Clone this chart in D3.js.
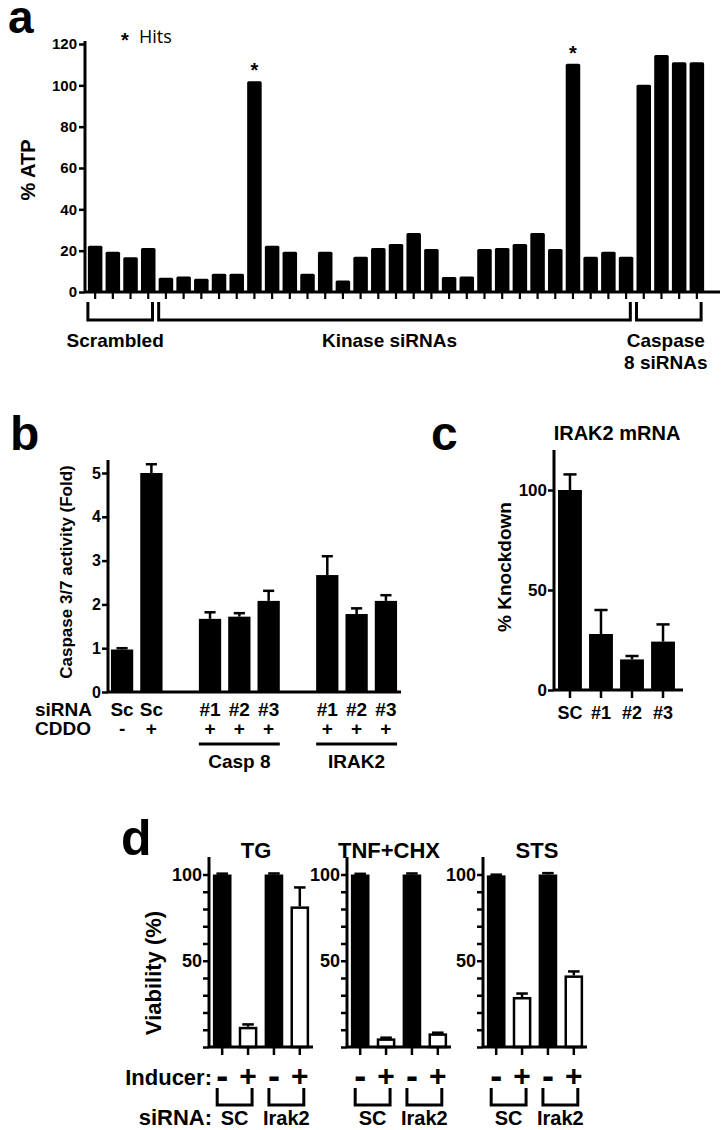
<!DOCTYPE html>
<html><head><meta charset="utf-8">
<script src="https://cdn.jsdelivr.net/npm/d3@7"></script>
<style>
body{margin:0;background:#fff;}
svg{display:block;font-family:"Liberation Sans",Arial,sans-serif;font-weight:bold;}
text{fill:#000;}
</style></head><body>
<svg id="fig" width="724" height="1130"></svg>
<script>
// ===== DATA =====
// Panel a: % ATP screen
const atpGroups = ["Scrambled", "Kinase siRNAs", "Caspase 8 siRNAs"];
const atpGroupSizes = [4, 27, 4];
const atpValues = [22.4, 19.5, 16.8, 21.3,
  6.9, 7.5, 6.4, 8.8, 8.8, 102, 22.4, 19.5, 8.8, 19.5, 5.6, 17.1,
  21.3, 23.2, 28.5, 20.8, 7.2, 7.5, 20.8, 21.3, 23.2, 28.5, 20.8, 110.4, 17.1, 19.5, 17.1,
  100.3, 114.7, 111.2, 111.2];
const atpHits = [9, 27];
const atpTicks = [0, 20, 40, 60, 80, 100, 120];

// Panel b: Caspase 3/7 activity
const casp37SiRNA = ["Sc", "Sc", "#1", "#2", "#3", "#1", "#2", "#3"];
const casp37CDDO = ["-", "+", "+", "+", "+", "+", "+", "+"];
const casp37Group = ["", "", "Casp 8", "Casp 8", "Casp 8", "IRAK2", "IRAK2", "IRAK2"];
const casp37Values = [0.97, 5.0, 1.67, 1.72, 2.08, 2.67, 1.78, 2.08];
const casp37Err = [0.03, 0.2, 0.15, 0.08, 0.23, 0.43, 0.13, 0.13];
const casp37Ticks = [0, 1, 2, 3, 4, 5];

// Panel c: IRAK2 mRNA
const irakLabels = ["SC", "#1", "#2", "#3"];
const irakValues = [100, 28, 15.3, 24.2];
const irakErr = [7.8, 12, 1.7, 8.6];
const irakTicks = [0, 50, 100];

// Panel d: viability
const viaPanels = ["TG", "TNF+CHX", "STS"];
const viaInducer = ["-", "+", "-", "+"];
const viaSiRNA = ["SC", "SC", "Irak2", "Irak2"];
const viaValues = [[100, 11.7, 100, 81.5], [100, 5.0, 100, 7.9], [99.5, 29, 100, 41.5]];
const viaErr = [[0.5, 1.4, 0.6, 11], [0.4, 0.4, 0.6, 0.4], [0.4, 2, 0.8, 2.3]];
const viaTicks = [0, 10, 20, 30, 40, 50, 60, 70, 80, 90, 100];
const viaTickLabels = [50, 100];

// ===== DRAW =====
const svg = d3.select("#fig");

function styleAxis(g, fs, sw) {
  g.select(".domain").attr("stroke", "#000").attr("stroke-width", sw);
  g.selectAll(".tick line").attr("stroke", "#000").attr("stroke-width", sw - 0.5);
  g.selectAll(".tick text").attr("fill", "#000").attr("font-size", fs)
    .attr("font-family", '"Liberation Sans",Arial,sans-serif').attr("font-weight", "bold");
}
function txt(x, y, s, fs, anchor) {
  return svg.append("text").attr("x", x).attr("y", y).attr("font-size", fs)
    .attr("text-anchor", anchor || "middle").text(s);
}
function vtxt(x, y, s, fs) {
  return svg.append("text").attr("transform", `translate(${x},${y}) rotate(-90)`)
    .attr("font-size", fs).attr("text-anchor", "middle").text(s);
}
function errBar(g, cx, yTop, yErr, cap, sw) {
  g.append("line").attr("x1", cx).attr("x2", cx).attr("y1", yTop).attr("y2", yErr)
    .attr("stroke", "#000").attr("stroke-width", sw);
  g.append("line").attr("x1", cx - cap / 2).attr("x2", cx + cap / 2).attr("y1", yErr).attr("y2", yErr)
    .attr("stroke", "#000").attr("stroke-width", sw);
}

// ---------- Panel a ----------
(function () {
  const ax = 85, y0 = 292;
  const x = d3.scaleBand().domain(d3.range(atpValues.length)).range([87, 705])
    .paddingInner(0.18).paddingOuter(0.05);
  const y = d3.scaleLinear().domain([0, 120]).range([y0, 44]);
  const g = svg.append("g");
  g.selectAll("rect.bar").data(atpValues).join("rect")
    .attr("x", (d, i) => x(i)).attr("width", x.bandwidth())
    .attr("y", d => y(d)).attr("height", d => y0 - y(d)).attr("rx", 1.5).attr("fill", "#000");
  g.selectAll("line.xt").data(atpValues).join("line")
    .attr("x1", (d, i) => x(i) + x.bandwidth() / 2).attr("x2", (d, i) => x(i) + x.bandwidth() / 2)
    .attr("y1", y0).attr("y2", y0 + 7).attr("stroke", "#000").attr("stroke-width", 2.2);
  g.append("line").attr("x1", ax).attr("x2", 720).attr("y1", y0).attr("y2", y0)
    .attr("stroke", "#000").attr("stroke-width", 3);
  const ya = svg.append("g").attr("transform", `translate(${ax},0)`)
    .call(d3.axisLeft(y).tickValues(atpTicks).tickSize(6).tickPadding(2).tickSizeOuter(0));
  styleAxis(ya, 15, 3);
  ya.select(".domain").attr("d", `M0,${y0}V41`);
  atpHits.forEach(i => txt(x(i) + x.bandwidth() / 2, y(atpValues[i]) - 4, "*", 20));
  let start = 0;
  atpGroups.forEach((name, gi) => {
    const end = start + atpGroupSizes[gi] - 1;
    const x0 = x(start), x1 = x(end) + x.bandwidth() - 3;
    svg.append("path").attr("d", `M${x0},302V320H${x1}V302`).attr("fill", "none")
      .attr("stroke", "#000").attr("stroke-width", 3);
    const cx = (x0 + x1) / 2 - 5;
    if (name === "Caspase 8 siRNAs") {
      txt(cx + 2, 347, "Caspase", 19);
      txt(cx + 2, 369, "8 siRNAs", 19);
    } else {
      txt(cx, 347, name, 19);
    }
    start = end + 1;
  });
  vtxt(35, 170, "% ATP", 20);
  txt(121, 47, "*", 20, "start");
  svg.append("text").attr("x", 139).attr("y", 43).attr("font-size", 18)
    .attr("font-family", '"Open Sans",sans-serif').attr("font-weight", "normal").text("Hits");
  txt(8, 33, "a", 46, "start");
})();

// ---------- Panel b ----------
(function () {
  const ax = 108, y0 = 692;
  const slots = [];
  let s = 0;
  casp37Group.forEach((gname, i) => {
    if (i > 0) s += (gname !== casp37Group[i - 1]) ? 2 : 1;
    slots.push(s);
  });
  const x = d3.scaleBand().domain(d3.range(10)).range([ax, 400]).paddingInner(0.24).paddingOuter(0.1);
  const y = d3.scaleLinear().domain([0, 5]).range([y0, 473]);
  const g = svg.append("g");
  const bw = x.bandwidth();
  casp37Values.forEach((v, i) => {
    const bx = x(slots[i]);
    g.append("rect").attr("x", bx).attr("width", bw).attr("y", y(v)).attr("height", y0 - y(v)).attr("fill", "#000");
    errBar(g, bx + bw / 2, y(v), y(v + casp37Err[i]), bw * 0.5, 2.5);
    txt(bx + bw / 2, 716, casp37SiRNA[i], 19);
    txt(bx + bw / 2, 735, casp37CDDO[i], 19);
  });
  g.append("line").attr("x1", ax).attr("x2", 401).attr("y1", y0).attr("y2", y0)
    .attr("stroke", "#000").attr("stroke-width", 3);
  const ya = svg.append("g").attr("transform", `translate(${ax},0)`)
    .call(d3.axisLeft(y).tickValues(casp37Ticks).tickFormat(d3.format("d")).tickSize(6).tickPadding(1).tickSizeOuter(0));
  styleAxis(ya, 16, 3);
  ya.select(".domain").attr("d", `M0,${y0}V460`);
  const names = [...new Set(casp37Group.filter(d => d))];
  names.forEach(n => {
    const idx = casp37Group.map((d, i) => d === n ? i : -1).filter(i => i >= 0);
    const x0 = x(slots[idx[0]]), x1 = x(slots[idx[idx.length - 1]]) + bw;
    svg.append("line").attr("x1", x0).attr("x2", x1).attr("y1", 744).attr("y2", 744)
      .attr("stroke", "#000").attr("stroke-width", 3);
    txt((x0 + x1) / 2, 768, n, 19);
  });
  txt(35, 716, "siRNA", 19, "start");
  txt(35, 735, "CDDO", 19, "start");
  vtxt(72, 572, "Caspase 3/7 activity (Fold)", 17);
  txt(10, 450, "b", 48, "start");
})();

// ---------- Panel c ----------
(function () {
  const ax = 554, y0 = 690;
  const x = d3.scaleBand().domain(d3.range(irakValues.length)).range([ax, 679]).paddingInner(0.23).paddingOuter(0.13);
  const y = d3.scaleLinear().domain([0, 120]).range([y0, 450]);
  const g = svg.append("g");
  const bw = x.bandwidth();
  irakValues.forEach((v, i) => {
    const bx = x(i);
    g.append("rect").attr("x", bx).attr("width", bw).attr("y", y(v)).attr("height", y0 - y(v)).attr("fill", "#000");
    errBar(g, bx + bw / 2, y(v), y(v + irakErr[i]), bw * 0.55, 2.5);
    g.append("line").attr("x1", bx + bw / 2).attr("x2", bx + bw / 2).attr("y1", y0).attr("y2", y0 + 8)
      .attr("stroke", "#000").attr("stroke-width", 2.5);
    txt(bx + bw / 2, 719, irakLabels[i], 18);
  });
  g.append("line").attr("x1", ax).attr("x2", 683).attr("y1", y0).attr("y2", y0)
    .attr("stroke", "#000").attr("stroke-width", 3);
  const ya = svg.append("g").attr("transform", `translate(${ax},0)`)
    .call(d3.axisLeft(y).tickValues(irakTicks).tickSize(6).tickPadding(1).tickSizeOuter(0));
  styleAxis(ya, 17, 3);
  ya.select(".domain").attr("d", `M0,${y0}V450`);
  txt(617, 440, "IRAK2 mRNA", 20);
  vtxt(511, 567, "% Knockdown", 19);
  txt(431, 450, "c", 48, "start");
})();

// ---------- Panel d ----------
(function () {
  const axes = [209, 347, 483];
  const titleX = [256, 389, 537];
  const y0 = 1047;
  const y = d3.scaleLinear().domain([0, 110]).range([y0, y0 - 110 * 1.725]);
  viaPanels.forEach((title, p) => {
    const ax = axes[p];
    const x = d3.scaleBand().domain(d3.range(4)).range([ax, ax + 104]).paddingInner(0.28).paddingOuter(0.15);
    const bw = x.bandwidth();
    const g = svg.append("g");
    viaValues[p].forEach((v, i) => {
      const bx = x(i);
      const white = viaInducer[i] === "+";
      if (white) {
        g.append("rect").attr("x", bx + 1.25).attr("width", bw - 2.5).attr("y", y(v) + 1.25)
          .attr("height", y0 - y(v) - 1.25).attr("fill", "#fff").attr("stroke", "#000").attr("stroke-width", 2.5);
      } else {
        g.append("rect").attr("x", bx).attr("width", bw).attr("y", y(v)).attr("height", y0 - y(v)).attr("fill", "#000");
      }
      errBar(g, bx + bw / 2, y(v), y(v + viaErr[p][i]), bw * 0.62, 2.5);
      g.append("line").attr("x1", bx + bw / 2).attr("x2", bx + bw / 2).attr("y1", y0).attr("y2", y0 + 8)
        .attr("stroke", "#000").attr("stroke-width", 2.5);
      if (viaInducer[i] === "-") txt(bx + bw / 2, 1088, viaInducer[i], 36);
      else txt(bx + bw / 2, 1086, viaInducer[i], 30);
    });
    const names = [...new Set(viaSiRNA)];
    names.forEach(n => {
      const idx = viaSiRNA.map((d, i) => d === n ? i : -1).filter(i => i >= 0);
      const c0 = x(idx[0]) + bw / 2 - 5, c1 = x(idx[idx.length - 1]) + bw / 2 + 4;
      svg.append("path").attr("d", `M${c0},1088V1105H${c1}V1088`).attr("fill", "none")
        .attr("stroke", "#000").attr("stroke-width", 3);
      txt((c0 + c1) / 2, 1125, n, 20);
    });
    g.append("line").attr("x1", ax).attr("x2", ax + 104).attr("y1", y0).attr("y2", y0)
      .attr("stroke", "#000").attr("stroke-width", 3);
    const ya = svg.append("g").attr("transform", `translate(${ax},0)`)
      .call(d3.axisLeft(y).tickValues(viaTicks).tickSize(6).tickPadding(1).tickSizeOuter(0)
        .tickFormat(d => viaTickLabels.includes(d) ? d : ""));
    styleAxis(ya, 18, 3);
    ya.select(".domain").attr("d", `M0,${y0}V857`);
    txt(titleX[p], 858, title, 22);
  });
  txt(212, 1085, "Inducer:", 22, "end");
  txt(212, 1125, "siRNA:", 22, "end");
  vtxt(161, 973, "Viability (%)", 22);
  txt(121, 855, "d", 50, "start");
})();
</script>
</body></html>
